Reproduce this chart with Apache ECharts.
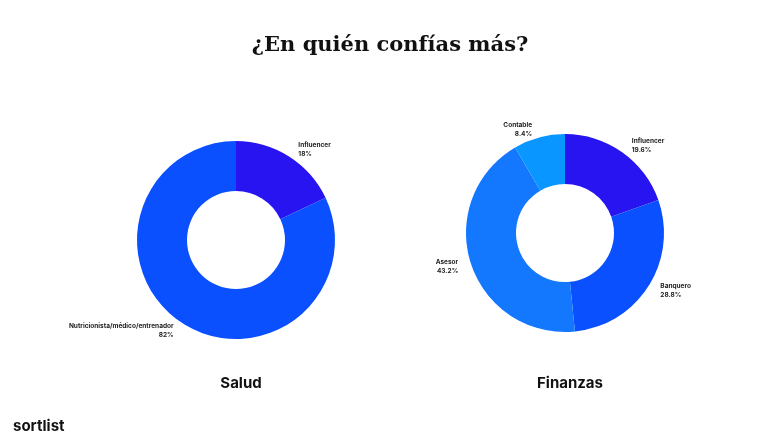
<!DOCTYPE html>
<html><head><meta charset="utf-8">
<script src="https://cdn.jsdelivr.net/npm/echarts@6/dist/echarts.min.js"></script>
<style>html,body{margin:0;background:#fff}#c{width:780px;height:440px}</style>
</head><body><div id="c"></div>
<script>
// datos
const saludNames = ['Influencer', 'Nutricionista/médico/entrenador'];
const saludValues = [18, 82];
const saludColors = ['#2814f0', '#0a50ff'];
const finNames = ['Influencer', 'Banquero', 'Asesor', 'Contable'];
const finValues = [19.6, 28.8, 43.2, 8.4];
const finColors = ['#2814f0', '#0a50ff', '#1478ff', '#0a96ff'];

function pieSeries(names, values, colors, center) {
    return {
        type: 'pie',
        center: center,
        radius: [49, 99],
        startAngle: 90,
        clockwise: true,
        silent: true,
        data: names.map((n, i) => ({ name: n, value: values[i], itemStyle: { color: colors[i] } })),
        label: {
            show: true, position: 'outside', formatter: '{b}\n{c}%',
            fontSize: 6.5, fontWeight: 'bold', color: '#222', lineHeight: 9,
            fontFamily: 'Inter'
        },
        labelLine: { show: false, length: 8, length2: 0 }
    }
}

let chart = echarts.init(document.getElementById('c'));
chart.setOption({
    animation: false,
    title: [
        { text: '¿En quién confías más?', left: 'center', top: 30,
          textStyle: { fontFamily: 'DejaVu Serif', fontWeight: 'bold', fontSize: 21, color: '#111' } },
        { text: 'Salud', left: 236, top: 371, textAlign: 'center',
          textStyle: { fontFamily: 'Inter', fontWeight: 'bold', fontSize: 15, color: '#111' } },
        { text: 'Finanzas', left: 565, top: 371, textAlign: 'center',
          textStyle: { fontFamily: 'Inter', fontWeight: 'bold', fontSize: 15, color: '#111' } },
        { text: 'sortlist', left: 8, top: 414,
          textStyle: { fontFamily: 'Inter', fontWeight: 'bold', fontSize: 15, color: '#111' } }
    ],
    series: [
        pieSeries(saludNames, saludValues, saludColors, [236, 240]),
        pieSeries(finNames, finValues, finColors, [565, 233])
    ]
});
</script></body></html>
